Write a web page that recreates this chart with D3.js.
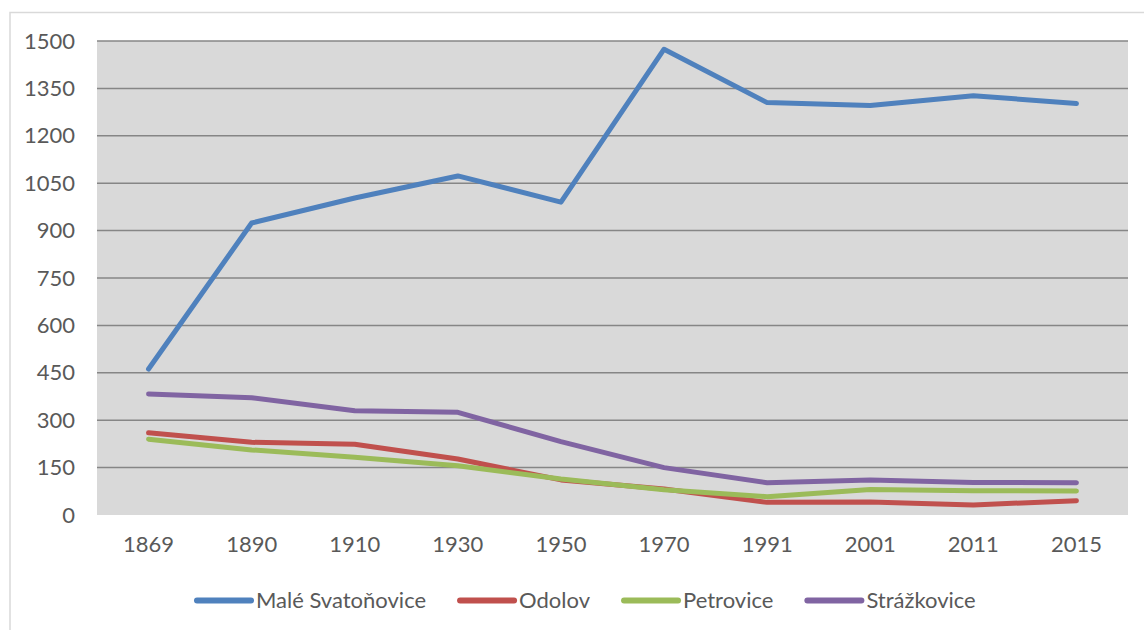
<!DOCTYPE html>
<html>
<head>
<meta charset="utf-8">
<script src="https://cdn.jsdelivr.net/npm/d3@7/dist/d3.min.js"></script>
<style>
html,body{margin:0;padding:0;background:#fff;}
svg{display:block;}
text{font-family:Lato, "Open Sans", sans-serif;fill:#595959;}
</style>
</head>
<body>
<svg id="chart" width="1144" height="630"></svg>
<script>
const categories = ["1869","1890","1910","1930","1950","1970","1991","2001","2011","2015"];
const seriesNames = ["Malé Svatoňovice","Odolov","Petrovice","Strážkovice"];
const maleSvatonovice = [462, 924, 1003, 1073, 990, 1474, 1305, 1296, 1327, 1302];
const odolov = [260, 230, 224, 177, 111, 82, 40, 41, 32, 45];
const petrovice = [240, 206, 183, 156, 114, 80, 58, 81, 77, 76];
const strazkovice = [383, 371, 330, 325, 232, 150, 102, 111, 103, 102];
const yTicks = [0,150,300,450,600,750,900,1050,1200,1350,1500];
const colors = ["#4f81bd","#c0504d","#9bbb59","#8064a2"];
const seriesValues = [maleSvatonovice, odolov, petrovice, strazkovice];

const svg = d3.select("#chart");
const plot = {left:97, right:1128, top:41, bottom:515};
const fs = 22;

// outer chart border
svg.append("path")
  .attr("d", `M10,630 L10,12.5 L1144,12.5`)
  .attr("fill","none").attr("stroke","#d9d9d9").attr("stroke-width",1.5);

const x = d3.scaleBand().domain(categories).range([plot.left, plot.right]);
const y = d3.scaleLinear().domain([0,1500]).range([plot.bottom, plot.top]);

svg.append("rect")
  .attr("x",plot.left).attr("y",plot.top)
  .attr("width",plot.right-plot.left).attr("height",plot.bottom-plot.top)
  .attr("fill","#d9d9d9");

// gridlines
svg.append("g").selectAll("line").data(yTicks.filter(d=>d>0)).join("line")
  .attr("x1",plot.left).attr("x2",plot.right)
  .attr("y1",d=>y(d)).attr("y2",d=>y(d))
  .attr("stroke","#868686").attr("stroke-width",1.5);

// y axis
const yAxis = d3.axisLeft(y).tickValues(yTicks).tickSize(0).tickPadding(22).tickFormat(d=>String(d));
const gy = svg.append("g").attr("transform",`translate(${plot.left},0)`).call(yAxis);
gy.select(".domain").remove();
gy.selectAll("text").attr("font-size",fs).style("fill","#595959").attr("font-family","Lato");

// x axis
const xAxis = d3.axisBottom(x).tickSize(0).tickPadding(21);
const gx = svg.append("g").attr("transform",`translate(0,${plot.bottom})`).call(xAxis);
gx.select(".domain").remove();
gx.selectAll("text").attr("font-size",fs).style("fill","#595959").attr("font-family","Lato");

// lines
const line = d3.line().x((d,i)=>x(categories[i])+x.bandwidth()/2).y(d=>y(d));
svg.append("g").selectAll("path").data(seriesValues).join("path")
  .attr("d", d=>line(d))
  .attr("fill","none")
  .attr("stroke",(d,i)=>colors[i])
  .attr("stroke-width",5)
  .attr("stroke-linejoin","round")
  .attr("stroke-linecap","round");

// legend
const lg = svg.append("g");
let cx = 197;
const ly = 600.5;
seriesNames.forEach((name,i)=>{
  lg.append("line").attr("x1",cx).attr("x2",cx+54).attr("y1",ly).attr("y2",ly)
    .attr("stroke",colors[i]).attr("stroke-width",6).attr("stroke-linecap","round");
  const t = lg.append("text").attr("x",cx+59).attr("y",ly).attr("dy","0.35em")
    .attr("font-size",fs).text(name);
  cx = cx + 59 + t.node().getComputedTextLength() + 34;
});
</script>
</body>
</html>
